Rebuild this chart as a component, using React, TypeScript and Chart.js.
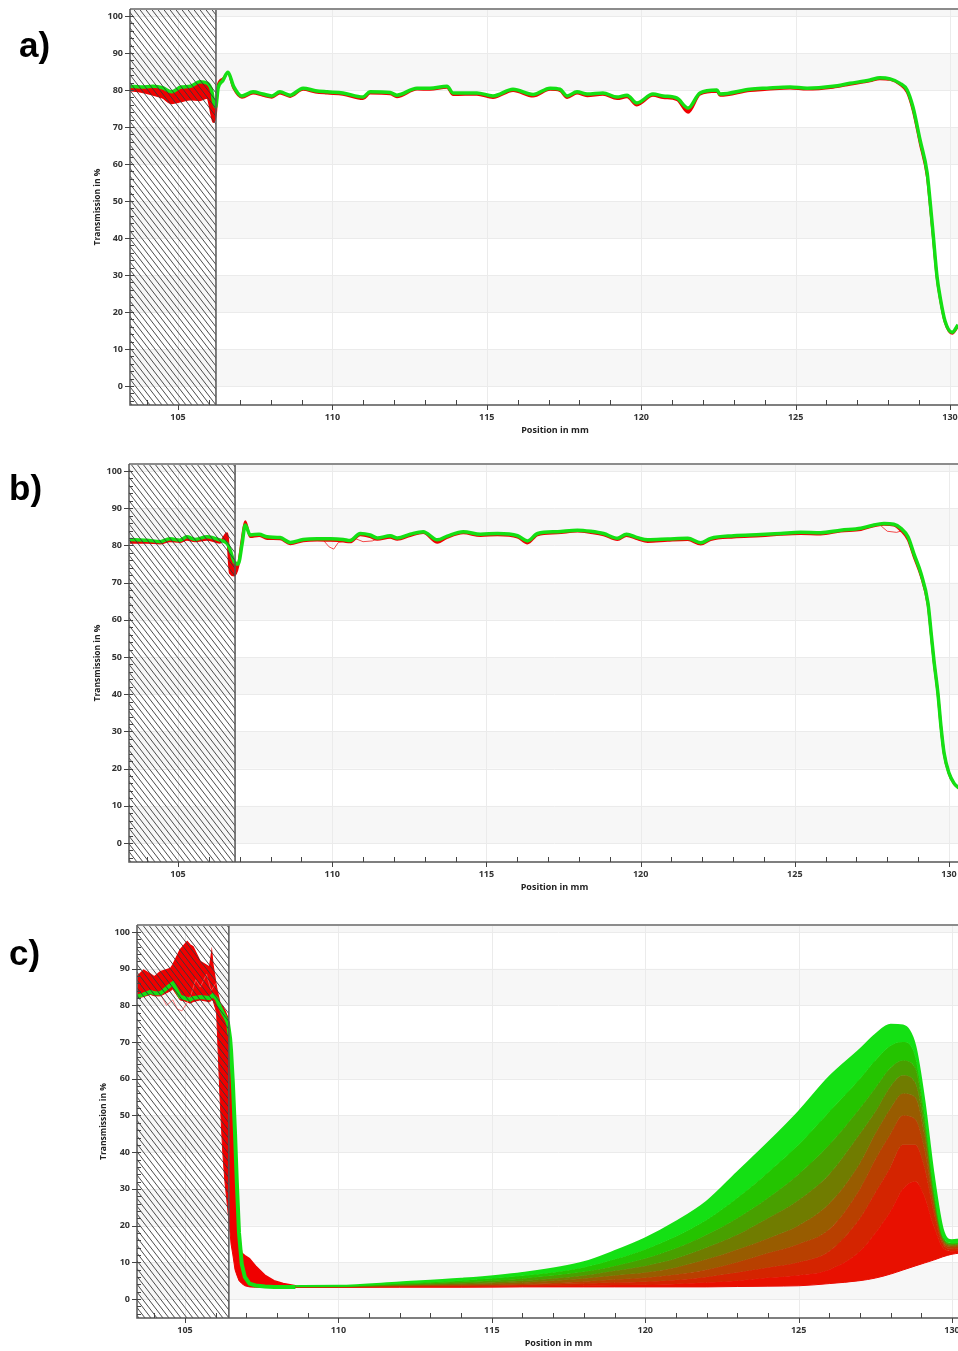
import React, { useEffect, useRef } from "react";
import { Chart, registerables } from "chart.js";

Chart.register(...registerables);

const FONT = "'Open Sans', 'DejaVu Sans', sans-serif";
const RED = "#f00000";
const GREEN = "#14e014";

// Axis tick labels
const xTickLabels = [105, 110, 115, 120, 125, 130];
const yTickLabels = [0, 10, 20, 30, 40, 50, 60, 70, 80, 90, 100];

// ---------- Panel a ----------
const aX = [
  103.45, 103.8, 104.2, 104.5, 104.8, 105.1, 105.4, 105.7, 105.95, 106.1,
  106.15, 106.22, 106.3, 106.45, 106.62, 106.8, 107.07, 107.43, 107.75, 108.04,
  108.3, 108.63, 109.05, 109.45, 109.83, 110.34, 110.99, 111.22, 111.87, 112.09,
  112.74, 113.16, 113.71, 113.91, 114.68, 115.2, 115.85, 116.5, 117.05, 117.37,
  117.6, 117.92, 118.25, 118.76, 119.22, 119.54, 119.86, 120.38, 120.71, 121.16,
  121.52, 121.9, 122.45, 122.55, 123.52, 124.07, 124.82, 125.37, 126.21, 126.76,
  127.41, 127.73, 128.06, 128.38, 128.61, 128.8, 129.03, 129.26, 129.35, 129.45,
  129.58, 129.68, 129.84, 130.07, 130.26,
];
const aGreen = [
  81.0, 80.8, 81.0, 80.6, 79.5, 80.8, 81.0, 82.2, 81.8, 79.5,
  77.0, 75.4, 80.5, 82.5, 84.8, 81.0, 78.4, 79.5, 78.9, 78.4,
  79.5, 78.6, 80.5, 79.8, 79.5, 79.2, 78.1, 79.5, 79.3, 78.6,
  80.5, 80.5, 81.0, 79.2, 79.2, 78.4, 80.2, 78.8, 80.5, 80.2,
  78.4, 79.5, 78.9, 79.2, 78.1, 78.6, 76.5, 78.9, 78.4, 77.8,
  75.1, 79.2, 80.0, 78.9, 80.2, 80.5, 80.8, 80.5, 81.0, 81.8,
  82.7, 83.3, 83.0, 81.8, 80.0, 75.4, 66.5, 57.6, 50.3, 41.4,
  29.5, 24.0, 17.5, 14.5, 16.5,
];
const aRed = [
  80.0, 79.6, 78.8, 78.0, 76.5, 77.0, 77.5, 77.3, 78.0, 73.0,
  71.4, 73.5, 81.5, 83.0, 84.6, 80.5, 78.0, 79.1, 78.5, 78.0,
  79.1, 78.2, 80.1, 79.4, 79.1, 78.8, 77.6, 79.1, 78.9, 78.1,
  80.2, 80.1, 80.7, 78.7, 78.8, 77.9, 79.8, 78.3, 80.1, 79.8,
  77.9, 79.1, 78.4, 78.8, 77.6, 78.1, 75.9, 78.5, 77.9, 77.3,
  73.9, 78.8, 79.6, 78.5, 79.8, 80.1, 80.5, 80.2, 80.7, 81.5,
  82.4, 83.0, 82.8, 81.5, 79.4, 74.5, 65.5, 56.5, 49.3, 40.5,
  29.0, 23.6, 17.2, 14.2, 16.2,
];

// ---------- Panel b ----------
const bX = [
  103.44, 103.99, 104.42, 104.74, 105.06, 105.29, 105.55, 105.94, 106.36, 106.59,
  106.69, 106.82, 106.95, 107.08, 107.18, 107.34, 107.63, 107.89, 108.31, 108.64,
  109.06, 109.51, 109.94, 110.36, 110.58, 110.91, 111.23, 111.46, 111.88, 112.11,
  112.53, 112.95, 113.41, 113.73, 114.25, 114.81, 115.36, 116.01, 116.33, 116.66,
  117.31, 117.95, 118.38, 118.8, 119.25, 119.54, 119.9, 120.23, 120.88, 121.53,
  121.95, 122.27, 123.02, 123.9, 124.55, 125.19, 125.84, 126.49, 127.14, 127.47,
  127.89, 128.21, 128.44, 128.67, 128.86, 129.09, 129.32, 129.42, 129.51, 129.64,
  129.74, 129.84, 130.0, 130.16, 130.32,
];
const bGreen = [
  81.6, 81.4, 81.0, 81.8, 81.4, 82.3, 81.6, 82.3, 81.4, 80.5,
  78.8, 75.6, 75.0, 80.5, 85.5, 82.8, 83.0, 82.3, 82.1, 80.8,
  81.6, 81.8, 81.8, 81.6, 81.3, 83.2, 82.8, 82.0, 82.6, 82.0,
  83.0, 83.7, 81.5, 82.5, 83.7, 83.0, 83.2, 82.6, 81.2, 83.2,
  83.7, 84.1, 83.8, 83.2, 81.9, 83.0, 82.1, 81.5, 81.7, 81.9,
  80.7, 81.9, 82.6, 82.9, 83.2, 83.5, 83.4, 84.1, 84.6, 85.3,
  85.9, 85.7, 84.6, 82.3, 77.8, 72.5, 64.4, 56.5, 49.2, 40.3,
  31.3, 24.2, 18.8, 16.1, 14.8,
];
const bRed = [
  80.8, 80.8, 80.6, 81.2, 81.0, 81.6, 81.2, 81.6, 80.8, 83.2,
  72.6, 72.0, 74.5, 82.0, 86.4, 82.3, 82.6, 81.8, 81.7, 80.4,
  81.2, 81.4, 81.3, 81.1, 80.9, 82.8, 82.3, 81.6, 82.1, 81.6,
  82.6, 83.4, 80.8, 82.1, 83.3, 82.6, 82.8, 82.2, 80.6, 82.8,
  83.3, 83.8, 83.4, 82.8, 81.5, 82.6, 81.7, 81.0, 81.3, 81.5,
  80.3, 81.5, 82.2, 82.5, 82.9, 83.1, 83.0, 83.8, 84.2, 85.0,
  85.6, 85.4, 84.0, 81.5, 77.0, 71.8, 63.8, 56.0, 48.8, 40.0,
  31.0, 24.0, 18.6, 16.0, 14.7,
];
const bOutX = [109.3, 109.7, 109.9, 110.05, 110.2, 110.5, 110.7, 111.0, 111.3, 111.6, 111.7, 127.8, 128.0, 128.3, 128.5, 128.7];
const bOutY = [81.7, 81.5, 79.6, 79.0, 80.8, 81.3, 82.0, 81.0, 81.2, 82.2, null, 85.2, 83.8, 83.5, 84.0, 82.0];

// ---------- Panel c ----------
const cLX = [
  103.44, 103.65, 103.87, 104.0, 104.2, 104.53, 104.6, 104.84, 105.07, 105.16,
  105.26, 105.49, 105.8, 105.87, 105.91, 106.03, 106.14, 106.23, 106.3, 106.4,
  106.47, 106.5, 106.56, 106.63, 106.69, 106.76, 106.85, 106.95, 107.1, 107.3,
  107.6, 107.9, 108.2, 108.6,
];
const cGreenL = [
  82.4, 83.0, 83.7, 83.3, 83.3, 85.6, 86.0, 82.4, 81.8, 81.5,
  82.0, 82.3, 82.0, 82.5, 82.8, 81.8, 79.6, 78.0, 77.0, 75.2,
  71.0, 67.8, 58.8, 45.2, 31.6, 18.0, 9.5, 6.0, 4.2, 3.7,
  3.4, 3.3, 3.3, 3.3,
];
const cRedTop = [
  87.8, 89.6, 88.5, 87.8, 89.2, 90.1, 91.0, 95.1, 97.4, 96.5,
  96.0, 92.0, 90.4, 94.4, 91.0, 84.6, 80.5, 79.6, 78.5, 76.5,
  72.0, 68.0, 58.0, 45.0, 31.0, 18.0, 12.5, 11.8, 11.0, 9.0,
  6.5, 5.0, 4.2, 3.6,
];
const cRedLow = [
  82.0, 82.4, 83.0, 82.6, 82.6, 84.0, 84.5, 81.5, 81.0, 80.6,
  81.0, 81.5, 81.0, 81.5, 81.5, 78.0, 55.0, 40.0, 32.0, 24.0,
  18.0, 15.0, 12.0, 8.0, 6.5, 5.0, 4.2, 3.6, 3.3, 3.2,
  3.2, 3.2, 3.2, 3.2,
];
const cThinX = [103.9, 104.2, 104.4, 104.6, 104.75, 104.9, 105.05, 105.2, 105.35, 105.5, 105.7, 105.85, 106.0];
const cThinY = [84.0, 83.0, 80.0, 81.5, 79.0, 78.5, 80.5, 83.0, 87.0, 85.0, 88.5, 84.0, 86.0];

const cFanX = [
  107.6, 108, 110, 112, 114, 116, 118, 119, 120, 121, 122, 123, 124, 125, 126,
  127, 127.5, 128, 128.4, 128.8, 129.1, 129.4, 129.7, 130, 130.25,
];
const cFan0 = [3.2, 3.2, 3.2, 3.2, 3.2, 3.3, 3.3, 3.3, 3.3, 3.3, 3.3, 3.4, 3.5, 3.6, 4.2, 5.0, 5.7, 6.8, 7.9, 9.0, 9.8, 10.6, 11.5, 12.2, 12.5];
const cFan1 = [3.2, 3.2, 3.2, 3.4, 3.4, 3.5, 3.7, 3.8, 3.9, 4.1, 4.5, 5.0, 5.8, 6.5, 8.0, 13.0, 18.0, 24.0, 30.0, 32.0, 28.0, 20.0, 14.0, 13.0, 13.2];
const cFan2 = [3.25, 3.25, 3.25, 3.5, 3.6, 3.8, 4.2, 4.5, 4.7, 5.2, 6.0, 7.2, 8.6, 10.0, 13.0, 22.0, 29.0, 36.0, 42.0, 42.0, 36.0, 24.0, 15.0, 13.7, 13.9];
const cFan3 = [3.3, 3.3, 3.3, 3.6, 3.8, 4.1, 4.8, 5.3, 5.8, 6.7, 8.0, 10.0, 12.5, 15.0, 19.0, 30.0, 38.0, 45.0, 50.0, 49.0, 41.0, 26.0, 15.6, 14.2, 14.4];
const cFan4 = [3.3, 3.3, 3.35, 3.7, 4.0, 4.5, 5.6, 6.4, 7.2, 8.6, 10.8, 13.5, 16.5, 20.0, 26.0, 37.0, 45.0, 52.0, 56.0, 55.0, 45.0, 27.0, 16.0, 14.5, 14.7];
const cFan5 = [3.3, 3.35, 3.4, 3.8, 4.3, 5.0, 6.4, 7.7, 9.0, 11.0, 14.0, 17.5, 22.0, 27.0, 34.0, 45.0, 51.0, 58.0, 61.0, 59.0, 47.0, 28.0, 16.4, 14.8, 15.0];
const cFan6 = [3.35, 3.4, 3.45, 4.0, 4.6, 5.6, 7.4, 9.0, 11.0, 13.8, 17.5, 22.0, 27.5, 34.0, 42.0, 52.0, 57.5, 63.0, 65.0, 63.0, 49.0, 29.0, 16.7, 15.0, 15.2];
const cFan7 = [3.4, 3.45, 3.5, 4.2, 5.0, 6.3, 8.6, 10.8, 13.5, 17.0, 21.5, 27.5, 34.5, 42.0, 51.0, 60.0, 65.0, 69.0, 70.0, 66.0, 50.5, 30.0, 17.0, 15.2, 15.4];
const cFan8 = [3.4, 3.5, 3.6, 4.5, 5.5, 7.1, 10.0, 13.0, 16.5, 21.0, 26.5, 34.5, 42.5, 51.0, 60.5, 68.0, 72.0, 74.7, 74.5, 69.0, 54.0, 34.0, 19.0, 16.0, 16.2];
const cFans = [cFan0, cFan1, cFan2, cFan3, cFan4, cFan5, cFan6, cFan7, cFan8];
const FAN_COLORS = ["#f00000", "#e81000", "#d42400", "#b84000", "#985c00", "#707c00", "#48a000", "#24c400", "#14e014"];

// ---------- helpers ----------
const pts = (xs: number[], ys: (number | null)[]) => xs.map((x, i) => ({ x, y: ys[i] }));

function ds(xs: number[], ys: (number | null)[], color: string, width: number, order: number, extra: any = {}) {
  return {
    data: pts(xs, ys),
    borderColor: color,
    backgroundColor: color,
    borderWidth: width,
    pointRadius: 0,
    fill: false,
    order,
    tension: 0,
    spanGaps: false,
    ...extra,
  };
}

const BANDS = [[0, 10], [20, 30], [40, 50], [60, 70], [80, 90], [100, 200]];

function decorPlugin(hatchEnd: number) {
  return {
    id: "decor",
    beforeDatasetsDraw(chart: any) {
      const { ctx, chartArea: ca, scales } = chart;
      const xs = scales.x, ys = scales.y;
      ctx.save();
      ctx.fillStyle = "#ffffff";
      ctx.fillRect(ca.left, ca.top, ca.right - ca.left, ca.bottom - ca.top);
      ctx.fillStyle = "#f7f7f7";
      for (const [lo, hi] of BANDS) {
        const y1 = ys.getPixelForValue(Math.min(hi, ys.max));
        const y2 = ys.getPixelForValue(lo);
        ctx.fillRect(ca.left, y1, ca.right - ca.left, y2 - y1);
      }
      ctx.strokeStyle = "#ebebeb";
      ctx.lineWidth = 1;
      ctx.beginPath();
      for (const v of yTickLabels) {
        const py = Math.round(ys.getPixelForValue(v)) + 0.5;
        ctx.moveTo(ca.left, py);
        ctx.lineTo(ca.right, py);
      }
      for (const v of xTickLabels) {
        const px = Math.round(xs.getPixelForValue(v)) + 0.5;
        ctx.moveTo(px, ca.top);
        ctx.lineTo(px, ca.bottom);
      }
      ctx.stroke();
      ctx.restore();
    },
    afterDatasetsDraw(chart: any) {
      const { ctx, chartArea: ca, scales } = chart;
      const hx = scales.x.getPixelForValue(hatchEnd);
      ctx.save();
      ctx.beginPath();
      ctx.rect(ca.left, ca.top, hx - ca.left, ca.bottom - ca.top);
      ctx.clip();
      ctx.strokeStyle = "rgba(55,55,55,0.9)";
      ctx.lineWidth = 1;
      const H = ca.bottom - ca.top;
      const run = H / 1.3;
      ctx.beginPath();
      for (let sx = ca.left - run - 10; sx < hx + 10; sx += 6) {
        ctx.moveTo(sx, ca.top);
        ctx.lineTo(sx + run, ca.bottom);
      }
      ctx.stroke();
      ctx.restore();
      ctx.save();
      ctx.strokeStyle = "#555";
      ctx.lineWidth = 1.5;
      ctx.beginPath();
      ctx.moveTo(hx, ca.top);
      ctx.lineTo(hx, ca.bottom);
      ctx.stroke();
      ctx.restore();
    },
    afterDraw(chart: any) {
      const { ctx, chartArea: ca, scales } = chart;
      const xs = scales.x, ys = scales.y;
      ctx.save();
      ctx.strokeStyle = "#8c8c8c";
      ctx.lineWidth = 2;
      ctx.beginPath();
      ctx.moveTo(ca.left, ca.top);
      ctx.lineTo(ca.right, ca.top);
      ctx.stroke();
      ctx.strokeStyle = "#555";
      ctx.lineWidth = 1.5;
      ctx.beginPath();
      ctx.moveTo(ca.left, ca.top);
      ctx.lineTo(ca.left, ca.bottom);
      ctx.lineTo(ca.right, ca.bottom);
      ctx.stroke();
      ctx.lineWidth = 1;
      ctx.strokeStyle = "#444";
      ctx.beginPath();
      for (let v = Math.ceil(xs.min); v <= xs.max; v++) {
        const px = Math.round(xs.getPixelForValue(v)) + 0.5;
        if (v % 5 === 0) {
          ctx.moveTo(px, ca.bottom);
          ctx.lineTo(px, ca.bottom + 5);
        } else {
          ctx.moveTo(px, ca.bottom);
          ctx.lineTo(px, ca.bottom - 5);
        }
      }
      for (let v = -4; v <= 100; v += 2) {
        const py = Math.round(ys.getPixelForValue(v)) + 0.5;
        if (v % 10 === 0) {
          ctx.moveTo(ca.left - 5, py);
          ctx.lineTo(ca.left, py);
        }
        ctx.moveTo(ca.left, py);
        ctx.lineTo(ca.left + 4, py);
      }
      ctx.stroke();
      ctx.restore();
    },
  };
}

type PanelCfg = {
  top: number;
  height: number;
  padTop: number;
  yAxisW: number;
  xAxisH: number;
  xMin: number;
  xMax: number;
  yMin: number;
  yMax: number;
  hatchEnd: number;
  xTitlePad: number;
  yTitlePad: number;
  datasets: any[];
};

const tickFont = { family: FONT, size: 9, weight: "bold" as const };

function buildConfig(cfg: PanelCfg): any {
  return {
    type: "line",
    data: { datasets: cfg.datasets },
    options: {
      responsive: false,
      animation: false,
      devicePixelRatio: 1,
      events: [],
      layout: { padding: { top: cfg.padTop, right: 20, left: 0, bottom: 0 } },
      plugins: { legend: { display: false }, tooltip: { enabled: false } },
      scales: {
        x: {
          type: "linear",
          min: cfg.xMin,
          max: cfg.xMax,
          grid: { display: false, drawTicks: false },
          border: { display: false },
          afterBuildTicks: (s: any) => {
            s.ticks = xTickLabels.map((v) => ({ value: v }));
          },
          afterFit: (s: any) => {
            s.height = cfg.xAxisH;
          },
          ticks: { padding: 7, font: tickFont, color: "#333", maxRotation: 0, autoSkip: false, callback: (v: any) => String(v) },
          title: { display: true, text: "Position in mm", font: { family: FONT, size: 9, weight: "bold" }, color: "#222", padding: { top: 0, bottom: cfg.xTitlePad } },
        },
        y: {
          type: "linear",
          min: cfg.yMin,
          max: cfg.yMax,
          grid: { display: false, drawTicks: false },
          border: { display: false },
          afterBuildTicks: (s: any) => {
            s.ticks = yTickLabels.map((v) => ({ value: v }));
          },
          afterFit: (s: any) => {
            s.width = cfg.yAxisW;
          },
          ticks: { padding: 7, font: tickFont, color: "#333", autoSkip: false, callback: (v: any) => String(v) },
          title: { display: true, text: "Transmission in %", font: { family: FONT, size: 8.5, weight: "bold" }, color: "#222", padding: { top: cfg.yTitlePad, bottom: 0 } },
        },
      },
    },
    plugins: [decorPlugin(cfg.hatchEnd)],
  };
}

const smooth = { cubicInterpolationMode: "monotone" };

const panelA: PanelCfg = {
  top: -10, height: 450, padTop: 19, yAxisW: 130, xAxisH: 35,
  xMin: 103.446, xMax: 130.971, yMin: -5.14, yMax: 101.89, hatchEnd: 106.23,
  xTitlePad: 4.6, yTitlePad: 92.4,
  datasets: [
    ds(aX, aGreen, GREEN, 3.5, 0, smooth),
    ds(aX, aRed, RED, 2.5, 1, { ...smooth, fill: 0 }),
  ],
};

const panelB: PanelCfg = {
  top: 440, height: 460, padTop: 24, yAxisW: 129, xAxisH: 38,
  xMin: 103.411, xMax: 131.005, yMin: -5.11, yMax: 101.88, hatchEnd: 106.85,
  xTitlePad: 7.6, yTitlePad: 92,
  datasets: [
    ds(bX, bGreen, GREEN, 3.5, 0, smooth),
    ds(bX, bRed, RED, 2.5, 1, { ...smooth, fill: 0 }),
    ds(bOutX, bOutY, "rgba(240,0,0,0.7)", 1, 2),
  ],
};

const fanSets = cFans.map((ys, k) =>
  ds(cFanX, ys, FAN_COLORS[k], k === 8 ? 2 : 1, 20 - k, {
    fill: k === 0 ? false : "-1",
    cubicInterpolationMode: "monotone",
  })
);

const panelC: PanelCfg = {
  top: 900, height: 451, padTop: 25, yAxisW: 137, xAxisH: 33,
  xMin: 103.435, xMax: 130.913, yMin: -5.18, yMax: 101.91, hatchEnd: 106.43,
  xTitlePad: 2.6, yTitlePad: 98.9,
  datasets: [
    ...fanSets, // indices 0..8
    ds(cLX, cRedLow, RED, 1, 3), // 9
    ds(cLX, cRedTop, RED, 1.5, 2, { fill: 9 }), // 10
    ds(cThinX, cThinY, "rgba(255,90,90,0.8)", 1, 1), // 11
    ds(cLX, cGreenL, GREEN, 4, 0), // 12
  ],
};

function Panel({ cfg }: { cfg: PanelCfg }) {
  const ref = useRef<HTMLCanvasElement | null>(null);
  useEffect(() => {
    const chart = new Chart(ref.current as HTMLCanvasElement, buildConfig(cfg));
    return () => chart.destroy();
  }, []);
  return (
    <canvas
      ref={ref}
      width={1000}
      height={cfg.height}
      style={{ position: "absolute", left: 0, top: cfg.top, width: 1000, height: cfg.height }}
    />
  );
}

const letterStyle: React.CSSProperties = {
  position: "absolute",
  fontFamily: "'Liberation Sans', Arial, sans-serif",
  fontWeight: "bold",
  fontSize: 35,
  lineHeight: 1,
  color: "#000",
};

export default function App() {
  return (
    <div style={{ position: "absolute", left: 0, top: 0, width: 958, height: 1351, overflow: "hidden", background: "#fff" }}>
      <Panel cfg={panelA} />
      <Panel cfg={panelB} />
      <Panel cfg={panelC} />
      <div style={{ ...letterStyle, left: 19, top: 27 }}>a)</div>
      <div style={{ ...letterStyle, left: 9, top: 470 }}>b)</div>
      <div style={{ ...letterStyle, left: 9, top: 935 }}>c)</div>
    </div>
  );
}
